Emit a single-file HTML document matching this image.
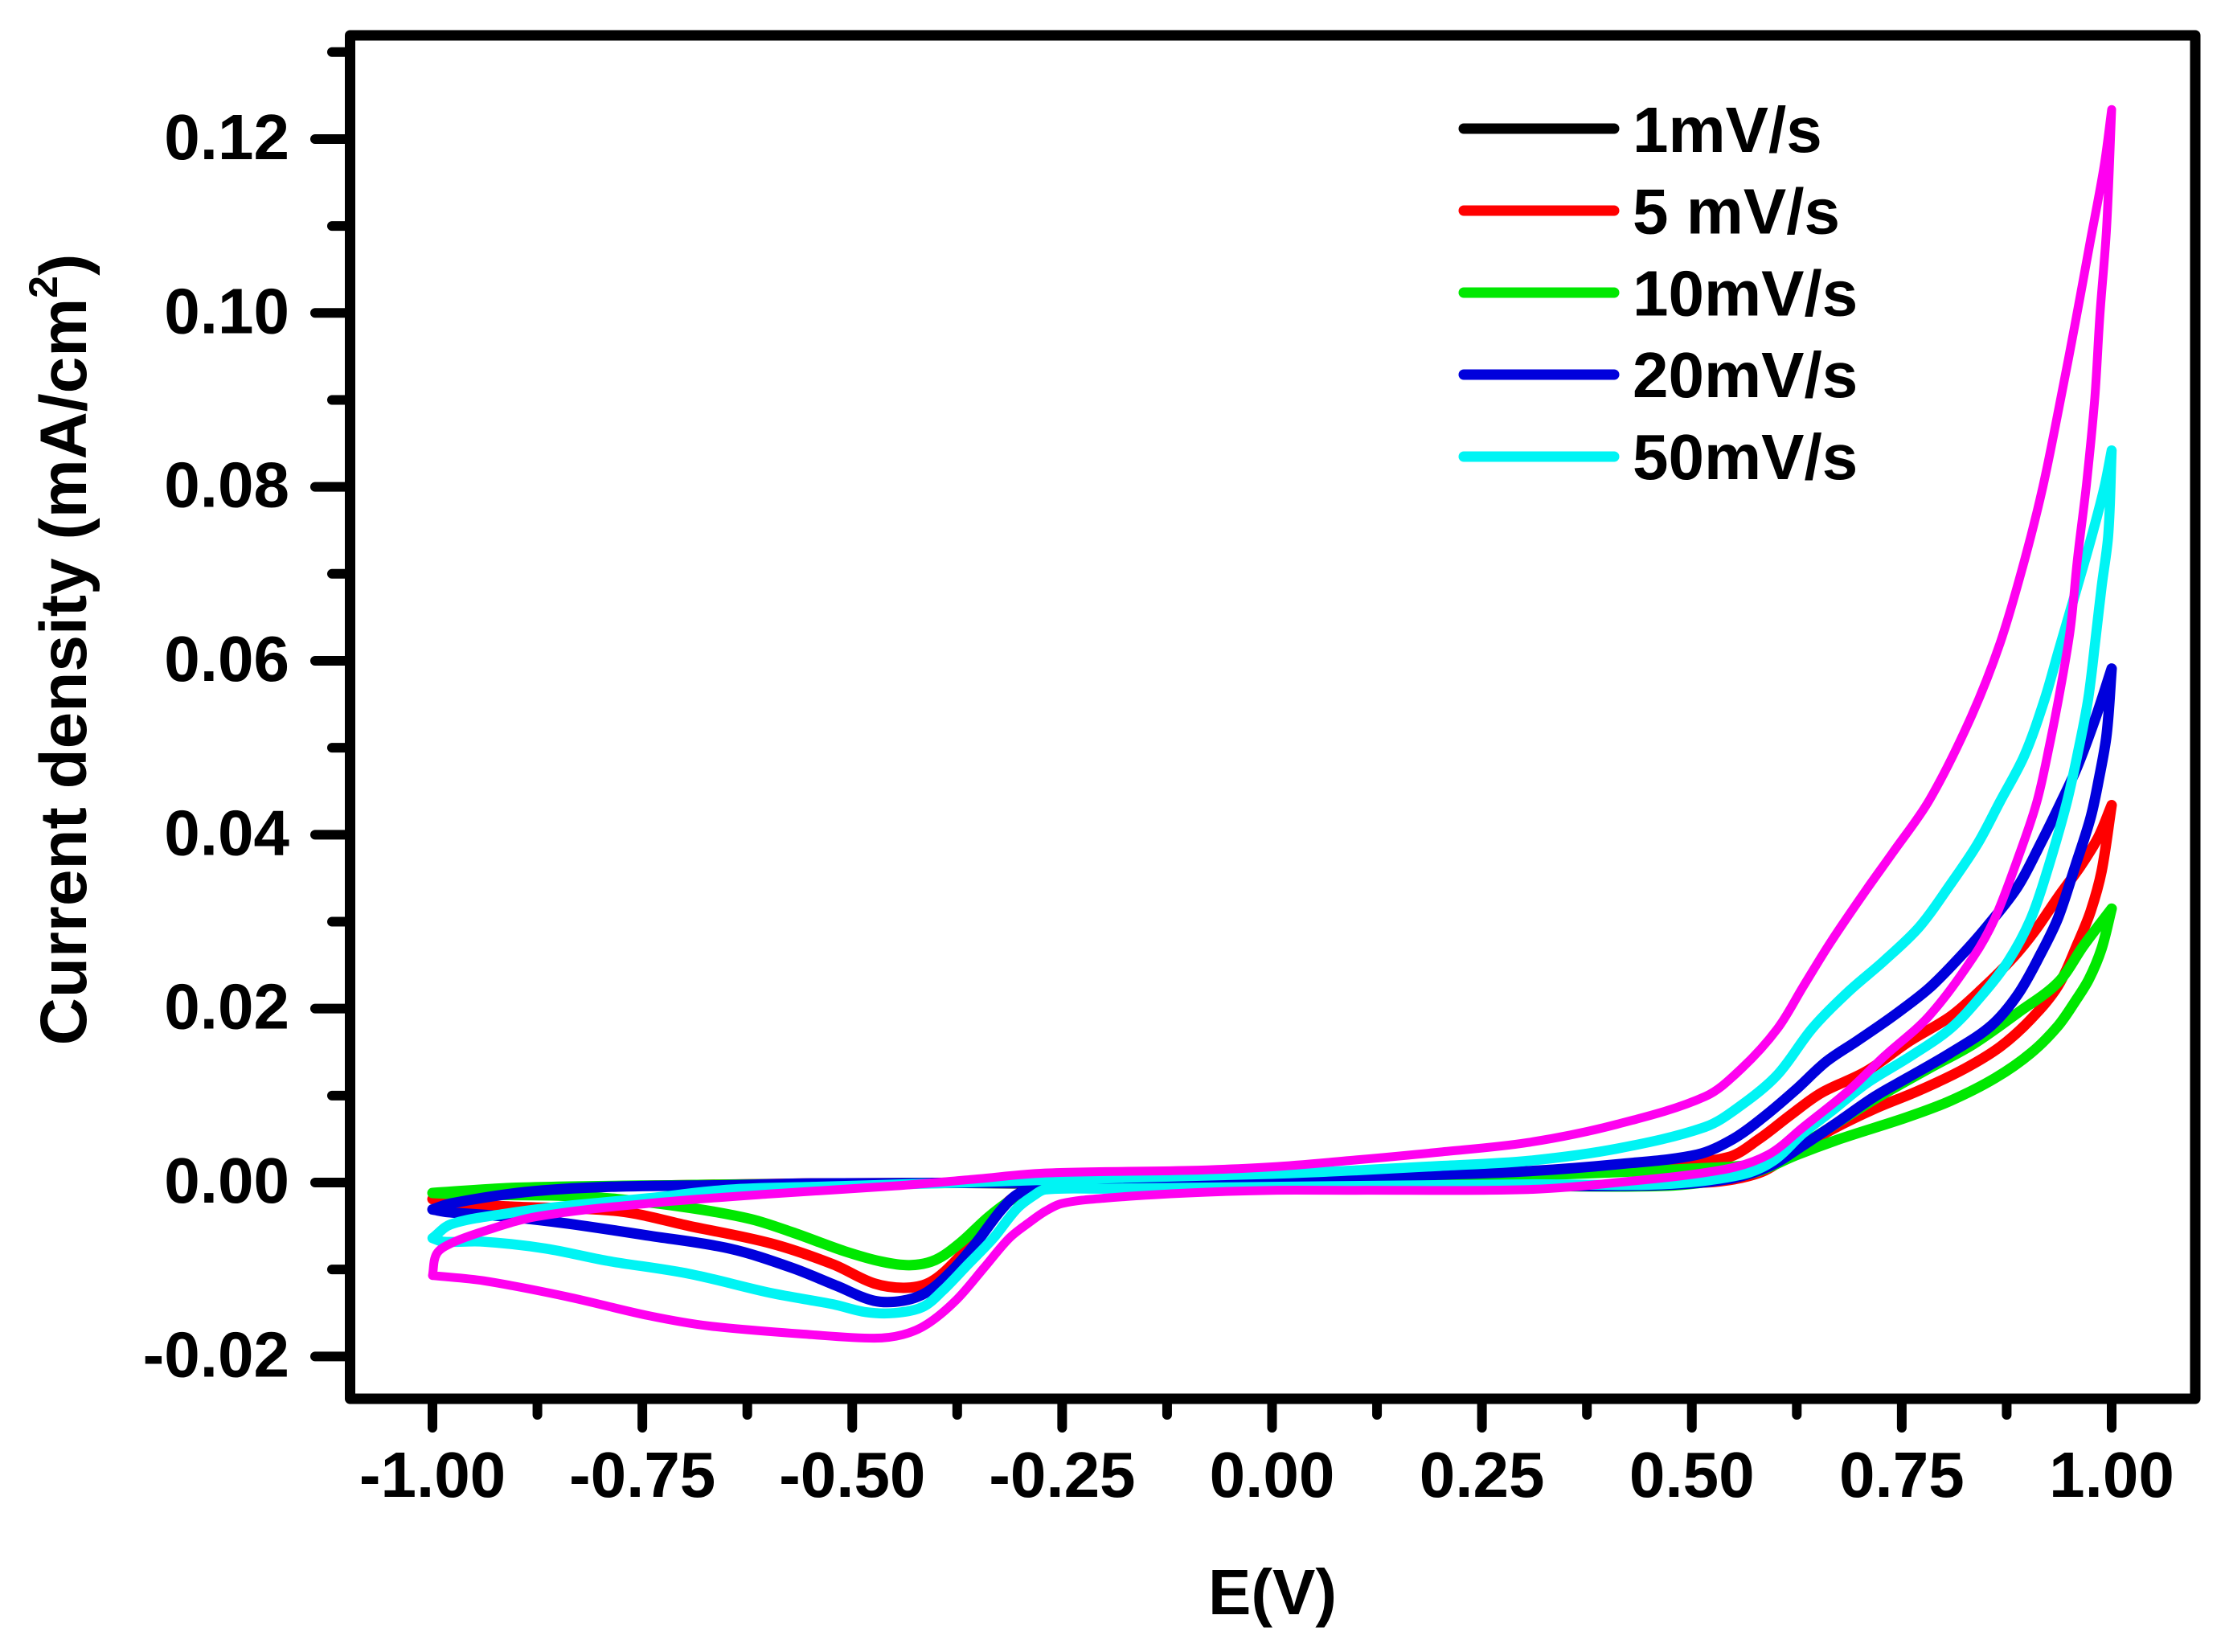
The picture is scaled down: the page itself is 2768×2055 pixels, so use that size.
<!DOCTYPE html>
<html lang="en">
<head>
<meta charset="utf-8">
<title>Cyclic voltammetry chart</title>
<style>
html,body{margin:0;padding:0;background:#fff;}
svg{display:block;}
text{font-family:"Liberation Sans",Arial,sans-serif;font-weight:bold;fill:#000;}
</style>
</head>
<body>
<svg id="chart" xmlns="http://www.w3.org/2000/svg" width="2768" height="2055" viewBox="0 0 2768 2055">
  <rect x="0" y="0" width="2768" height="2055" fill="#fff"/>
  <g id="curves"></g>
  <rect x="435.5" y="44" width="2295.5" height="1696" fill="none" stroke="#000" stroke-width="13" stroke-linejoin="round"/>
  <g id="axes"></g>
  <g id="legend"></g>
  <text x="1583" y="2008" font-size="80" text-anchor="middle">E(V)</text>
  <text x="107" y="808" font-size="82" text-anchor="middle" transform="rotate(-90 107 808)">Current density (mA/cm<tspan font-size="50" dy="-36">2</tspan><tspan dy="36">)</tspan></text>
</svg>
<script>
// ---- axis tick values ----
const xMajorTicks = [-1, -0.75, -0.5, -0.25, 0, 0.25, 0.5, 0.75, 1];
const xMajorLabels = ["-1.00", "-0.75", "-0.50", "-0.25", "0.00", "0.25", "0.50", "0.75", "1.00"];
const xMinorTicks = [-0.875, -0.625, -0.375, -0.125, 0.125, 0.375, 0.625, 0.875];
const yMajorTicks = [-0.02, 0, 0.02, 0.04, 0.06, 0.08, 0.1, 0.12];
const yMajorLabels = ["-0.02", "0.00", "0.02", "0.04", "0.06", "0.08", "0.10", "0.12"];
const yMinorTicks = [-0.01, 0.01, 0.03, 0.05, 0.07, 0.09, 0.11, 0.13];

// ---- legend ----
const legendLabels = ["1mV/s", "5 mV/s", "10mV/s", "20mV/s", "50mV/s"];
const legendColors = ["#000000", "#ff0000", "#00e800", "#0000dc", "#00f4f4"];

// ---- 1 mV/s (black, entirely hidden under the other traces) ----
const blackUpperE = [-1, -0.9, -0.7, -0.5, -0.27, 0, 0.3, 0.464, 0.58, 0.676, 0.808, 0.904, 0.957, 0.985];
const blackUpperI = [-0.0012, -0.0006, -0.0003, -0.0002, -0.0004, -0.0004, -0.0004, -0.0004, 0.0013, 0.005, 0.0094, 0.0149, 0.0209, 0.0262];
const blackLowerE = [0.985, 0.957, 0.904, 0.808, 0.676, 0.58, 0.464, 0.3, 0, -0.27, -0.5, -0.7, -0.9, -1];
const blackLowerI = [0.0262, 0.0209, 0.0149, 0.0094, 0.005, 0.0013, -0.0004, -0.0004, -0.0004, -0.0004, -0.0002, -0.0003, -0.0006, -0.0012];

// ---- 5 mV/s (red) ----
const redUpperE = [-1, -0.95, -0.85, -0.7, -0.55, -0.27, 0, 0.305, 0.464, 0.543, 0.58, 0.618, 0.654, 0.708, 0.76, 0.808, 0.846, 0.883, 0.909, 0.936, 0.963, 0.984, 1];
const redUpperI = [-0.0019, -0.0012, -0.0006, -0.0003, -0.0001, 0, 0.0003, 0.0012, 0.0021, 0.0029, 0.005, 0.0078, 0.0103, 0.0128, 0.0163, 0.0191, 0.0223, 0.0259, 0.029, 0.0328, 0.0364, 0.0397, 0.0434];
const redLowerE = [1, 0.988, 0.975, 0.96, 0.936, 0.904, 0.867, 0.825, 0.771, 0.718, 0.665, 0.623, 0.58, 0.516, 0.3, 0, -0.25, -0.28, -0.299, -0.318, -0.343, -0.376, -0.406, -0.435, -0.474, -0.523, -0.597, -0.694, -0.778, -0.9, -0.97, -1];
const redLowerI = [0.0434, 0.0358, 0.0312, 0.0276, 0.0226, 0.0188, 0.0156, 0.0131, 0.0106, 0.0085, 0.006, 0.0036, 0.0011, 0, -0.0004, -0.0004, -0.0005, -0.0007, -0.0012, -0.0025, -0.0052, -0.0089, -0.0114, -0.0121, -0.0116, -0.0094, -0.007, -0.005, -0.0033, -0.0028, -0.0024, -0.0019];

// ---- 10 mV/s (green) ----
const greenUpperE = [-1, -0.9, -0.7, -0.5, -0.27, 0, 0.3, 0.5, 0.58, 0.623, 0.718, 0.782, 0.835, 0.888, 0.936, 0.967, 1];
const greenUpperI = [-0.0012, -0.0006, -0.0003, -0.0001, 0, 0.0002, 0.0008, 0.0016, 0.0022, 0.0039, 0.0096, 0.0131, 0.0159, 0.0195, 0.023, 0.0273, 0.0315];
const greenLowerE = [1, 0.988, 0.973, 0.957, 0.936, 0.904, 0.861, 0.808, 0.756, 0.676, 0.623, 0.58, 0.528, 0.464, 0.3, 0, -0.25, -0.28, -0.304, -0.337, -0.372, -0.401, -0.43, -0.465, -0.509, -0.572, -0.621, -0.694, -0.78, -0.85, -0.95, -1];
const greenLowerI = [0.0315, 0.0269, 0.0234, 0.0209, 0.018, 0.0149, 0.012, 0.0094, 0.0075, 0.005, 0.0031, 0.0013, 0.0002, -0.0004, -0.0004, -0.0004, -0.0005, -0.0008, -0.0016, -0.0039, -0.007, -0.0089, -0.0095, -0.0091, -0.0079, -0.0057, -0.0042, -0.0029, -0.0019, -0.0015, -0.0014, -0.0012];

// ---- 20 mV/s (blue) ----
const blueUpperE = [-1, -0.978, -0.89, -0.792, -0.646, -0.548, -0.27, 0, 0.1, 0.2, 0.305, 0.411, 0.506, 0.549, 0.585, 0.623, 0.66, 0.697, 0.739, 0.782, 0.819, 0.851, 0.888, 0.915, 0.94, 0.959, 0.981, 1];
const blueUpperI = [-0.0031, -0.0024, -0.0011, -0.0005, -0.0003, -0.0001, 0, 0.0003, 0.0006, 0.0009, 0.0013, 0.0021, 0.0032, 0.005, 0.0075, 0.0106, 0.0139, 0.0163, 0.0191, 0.0223, 0.0259, 0.0294, 0.034, 0.0389, 0.0438, 0.0478, 0.0535, 0.0591];
const blueLowerE = [1, 0.994, 0.985, 0.975, 0.957, 0.936, 0.915, 0.888, 0.856, 0.808, 0.756, 0.718, 0.676, 0.633, 0.591, 0.543, 0.464, 0.305, 0, -0.2, -0.27, -0.285, -0.304, -0.323, -0.353, -0.381, -0.411, -0.44, -0.474, -0.518, -0.572, -0.646, -0.743, -0.841, -0.914, -0.982, -1];
const blueLowerI = [0.0591, 0.0515, 0.0465, 0.042, 0.0365, 0.0304, 0.0262, 0.0216, 0.018, 0.0149, 0.012, 0.0099, 0.0071, 0.0043, 0.0018, 0.0004, -0.0003, -0.0004, -0.0004, -0.0005, -0.0006, -0.0008, -0.0014, -0.0032, -0.007, -0.0101, -0.0126, -0.0136, -0.0136, -0.0119, -0.0098, -0.0076, -0.0061, -0.0047, -0.0039, -0.0034, -0.0031];

// ---- 50 mV/s (cyan) ----
const cyanUpperE = [-1, -0.978, -0.914, -0.841, -0.743, -0.646, -0.548, -0.401, -0.27, 0, 0.1, 0.2, 0.305, 0.411, 0.516, 0.559, 0.602, 0.644, 0.687, 0.729, 0.771, 0.808, 0.84, 0.867, 0.896, 0.92, 0.937, 0.959, 0.975, 0.991, 1];
const cyanUpperI = [-0.0064, -0.0048, -0.0036, -0.0027, -0.0018, -0.0008, -0.0005, -0.0001, 0.0003, 0.001, 0.0014, 0.0019, 0.0025, 0.0039, 0.0064, 0.0089, 0.0124, 0.0178, 0.022, 0.0255, 0.0294, 0.0343, 0.0389, 0.0438, 0.0491, 0.0555, 0.0612, 0.0685, 0.0739, 0.0798, 0.0842];
const cyanLowerE = [1, 0.996, 0.988, 0.981, 0.972, 0.959, 0.946, 0.925, 0.904, 0.877, 0.846, 0.808, 0.76, 0.708, 0.665, 0.633, 0.597, 0.559, 0.464, 0.305, 0, -0.2, -0.27, -0.284, -0.304, -0.332, -0.362, -0.392, -0.416, -0.45, -0.484, -0.523, -0.597, -0.694, -0.792, -0.865, -0.939, -0.987, -1];
const cyanLowerI = [0.0842, 0.0745, 0.0685, 0.0627, 0.0556, 0.0491, 0.0435, 0.0364, 0.0304, 0.0255, 0.0216, 0.0177, 0.0145, 0.0114, 0.0081, 0.0057, 0.0025, 0.0009, -0.0002, -0.0002, -0.0005, -0.0007, -0.0008, -0.0015, -0.003, -0.0064, -0.0094, -0.0124, -0.0143, -0.015, -0.0149, -0.014, -0.0127, -0.0105, -0.009, -0.0076, -0.0068, -0.0068, -0.0064];

// ---- unlabeled trace (magenta) ----
const magentaUpperE = [-1, -0.995, -0.978, -0.939, -0.875, -0.743, -0.597, -0.45, -0.353, -0.27, -0.1, 0, 0.1, 0.2, 0.305, 0.411, 0.516, 0.559, 0.602, 0.633, 0.665, 0.708, 0.739, 0.783, 0.831, 0.867, 0.896, 0.918, 0.937, 0.956, 0.975, 0.991, 1];
const magentaUpperI = [-0.0107, -0.0082, -0.007, -0.0056, -0.0039, -0.0024, -0.0013, -0.0004, 0.0004, 0.0011, 0.0014, 0.0018, 0.0026, 0.0035, 0.0046, 0.0067, 0.0099, 0.0131, 0.0177, 0.0226, 0.0276, 0.0337, 0.0379, 0.044, 0.0532, 0.062, 0.0715, 0.0800, 0.0890, 0.0985, 0.1085, 0.1169, 0.1234];
const magentaLowerE = [1, 0.994, 0.986, 0.98, 0.97, 0.959, 0.951, 0.94, 0.927, 0.911, 0.888, 0.861, 0.835, 0.782, 0.729, 0.687, 0.633, 0.591, 0.538, 0.411, 0.305, 0.1, 0, -0.1, -0.2, -0.25, -0.27, -0.288, -0.313, -0.343, -0.376, -0.411, -0.44, -0.474, -0.548, -0.67, -0.743, -0.841, -0.939, -1];
const magentaLowerI = [0.1234, 0.1098, 0.0998, 0.0903, 0.0803, 0.0715, 0.0638, 0.0573, 0.0508, 0.0438, 0.0372, 0.0304, 0.0259, 0.0191, 0.0145, 0.0106, 0.0064, 0.0032, 0.0015, 0, -0.0008, -0.0009, -0.0009, -0.0012, -0.0018, -0.0024, -0.0033, -0.0045, -0.0064, -0.0098, -0.0135, -0.0163, -0.0175, -0.0179, -0.0175, -0.0165, -0.0153, -0.0131, -0.0113, -0.0107];

// ---- axis functions ----
function xScale(v) { return 1582.5 + v * 1044.5; }
function yScale(v) { return 1471 - v * 10817; }

const SVG_NS = "http://www.w3.org/2000/svg";

function smoothPath(es, is, isContinuation) {
  const pts = es.map(function (e, i) { return [xScale(e), yScale(is[i])]; });
  let d = (isContinuation ? "L" : "M") + pts[0][0].toFixed(1) + " " + pts[0][1].toFixed(1);
  function dir(i) {
    const a = pts[Math.max(i - 1, 0)], b = pts[Math.min(i + 1, pts.length - 1)];
    const dx = b[0] - a[0], dy = b[1] - a[1], l = Math.hypot(dx, dy) || 1;
    return [dx / l, dy / l];
  }
  for (let i = 0; i < pts.length - 1; i++) {
    const p = pts[i], q = pts[i + 1];
    const len = Math.hypot(q[0] - p[0], q[1] - p[1]) / 3;
    const d1 = dir(i), d2 = dir(i + 1);
    d += " C" + (p[0] + d1[0] * len).toFixed(1) + " " + (p[1] + d1[1] * len).toFixed(1) +
         " " + (q[0] - d2[0] * len).toFixed(1) + " " + (q[1] - d2[1] * len).toFixed(1) +
         " " + q[0].toFixed(1) + " " + q[1].toFixed(1);
  }
  return d;
}

function drawCurve(name, color, width, ue, ui, le, li) {
  const el = document.createElementNS(SVG_NS, "path");
  el.setAttribute("d", smoothPath(ue, ui, false) + " " + smoothPath(le, li, true));
  el.setAttribute("fill", "none");
  el.setAttribute("stroke", color);
  el.setAttribute("stroke-width", width);
  el.setAttribute("stroke-linejoin", "round");
  el.setAttribute("stroke-linecap", "round");
  
  
  document.getElementById("curves").appendChild(el);
}

drawCurve("curve-1mv-s", "#000000", 7, blackUpperE, blackUpperI, blackLowerE, blackLowerI);
drawCurve("curve-5mv-s", "#ff0000", 13, redUpperE, redUpperI, redLowerE, redLowerI);
drawCurve("curve-10mv-s", "#00e800", 13, greenUpperE, greenUpperI, greenLowerE, greenLowerI);
drawCurve("curve-20mv-s", "#0000dc", 13, blueUpperE, blueUpperI, blueLowerE, blueLowerI);
drawCurve("curve-50mv-s", "#00f4f4", 12.5, cyanUpperE, cyanUpperI, cyanLowerE, cyanLowerI);
drawCurve("curve-magenta-unlabeled", "#ff00f0", 11, magentaUpperE, magentaUpperI, magentaLowerE, magentaLowerI);

function drawLine(parent, x1, y1, x2, y2, name) {
  const el = document.createElementNS(SVG_NS, "line");
  el.setAttribute("x1", x1);
  el.setAttribute("y1", y1);
  el.setAttribute("x2", x2);
  el.setAttribute("y2", y2);
  el.setAttribute("stroke", "#000");
  el.setAttribute("stroke-width", 12);
  el.setAttribute("stroke-linecap", "round");
  
  
  parent.appendChild(el);
}

function drawLabel(parent, x, y, txt, anchor, size, name) {
  const el = document.createElementNS(SVG_NS, "text");
  el.setAttribute("x", x);
  el.setAttribute("y", y);
  el.setAttribute("font-size", size);
  el.setAttribute("text-anchor", anchor);
  
  
  el.textContent = txt;
  parent.appendChild(el);
}

const axes = document.getElementById("axes");
xMajorTicks.forEach(function (v, i) {
  drawLine(axes, xScale(v), 1746, xScale(v), 1776, "x-major-tick");
  drawLabel(axes, xScale(v), 1862, xMajorLabels[i], "middle", 80, "x-tick-label");
});
xMinorTicks.forEach(function (v) {
  drawLine(axes, xScale(v), 1746, xScale(v), 1760, "x-minor-tick");
});
yMajorTicks.forEach(function (v, i) {
  drawLine(axes, 430, yScale(v), 392, yScale(v), "y-major-tick");
  drawLabel(axes, 360, yScale(v) + 25, yMajorLabels[i], "end", 80, "y-tick-label");
});
yMinorTicks.forEach(function (v) {
  drawLine(axes, 430, yScale(v), 413, yScale(v), "y-minor-tick");
});

const legend = document.getElementById("legend");
legendLabels.forEach(function (label, i) {
  const rowY = 160 + i * 102;
  const el = document.createElementNS(SVG_NS, "line");
  el.setAttribute("x1", 1821);
  el.setAttribute("y1", rowY);
  el.setAttribute("x2", 2008);
  el.setAttribute("y2", rowY);
  el.setAttribute("stroke", legendColors[i]);
  el.setAttribute("stroke-width", 13);
  el.setAttribute("stroke-linecap", "round");
  
  
  legend.appendChild(el);
  drawLabel(legend, 2031, 189 + i * 101.7, label, "start", 80, "legend-label");
});
</script>
</body>
</html>
